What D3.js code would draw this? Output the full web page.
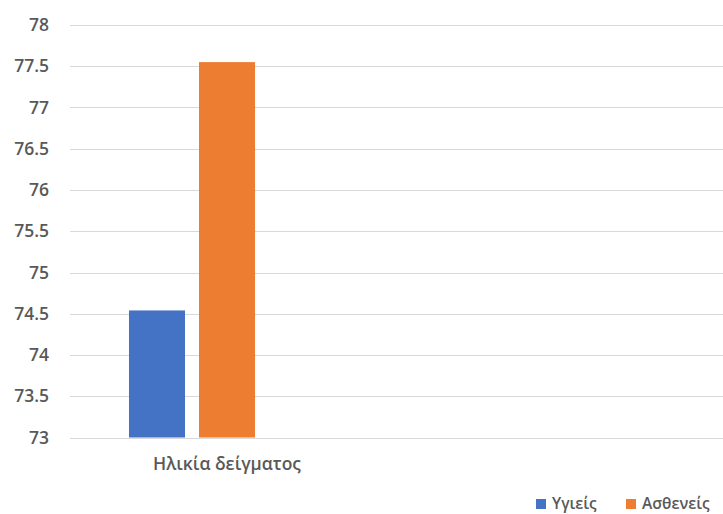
<!DOCTYPE html>
<html><head><meta charset="utf-8">
<script src="https://cdn.jsdelivr.net/npm/d3@7/dist/d3.min.js"></script>
<style>body{margin:0;background:#fff;}svg{display:block;font-family:"Open Sans","Noto Sans",sans-serif;}</style>
</head><body>
<svg id="c" width="723" height="514"></svg>
<script>
const categories = ["Ηλικία δείγματος"];
const seriesNames = ["Υγιείς", "Ασθενείς"];
const healthy = [74.54];
const patients = [77.55];
const yTicks = [73, 73.5, 74, 74.5, 75, 75.5, 76, 76.5, 77, 77.5, 78];
const colors = ["#4472C4", "#ED7D31"];

const svg = d3.select("#c");
const y = d3.scaleLinear().domain([73, 78]).range([437.5, 25]);
const x = d3.scaleBand().domain(categories).range([70, 314]).paddingInner(0).paddingOuter(0.468);
const xs = d3.scaleBand().domain(seriesNames).range([0, x.bandwidth()]).paddingInner(0.2);

// gridlines
svg.append("g").selectAll("line").data(yTicks).join("line")
  .attr("x1", 70).attr("x2", 723)
  .attr("y1", d => Math.round(y(d)) + 0.5).attr("y2", d => Math.round(y(d)) + 0.5)
  .attr("stroke", "#d9d9d9").attr("stroke-width", 1.2);

// y labels
const fmt = d => (d % 1 === 0 ? d3.format("d")(d) : d3.format(".1f")(d));
svg.append("g").selectAll("text").data(yTicks).join("text")
  .attr("x", 49).attr("y", d => y(d)).attr("dy", "0.35em")
  .attr("text-anchor", "end").attr("fill", "#595959").attr("font-size", 17.5).attr("font-weight", 600)
  .text(fmt);

// bars
const data = categories.map((c, i) => ({cat: c, vals: [healthy[i], patients[i]]}));
const g = svg.append("g");
data.forEach(d => {
  g.selectAll(null).data(d.vals).join("rect")
    .attr("x", (v, j) => x(d.cat) + xs(seriesNames[j]))
    .attr("width", xs.bandwidth())
    .attr("y", v => y(v))
    .attr("height", v => y(73) - y(v))
    .attr("fill", (v, j) => colors[j]);
});

// category label
svg.append("g").selectAll("text").data(categories).join("text")
  .attr("x", 227).attr("y", 464).attr("dy", "0.35em")
  .attr("text-anchor", "middle").attr("fill", "#595959").attr("font-size", 17.5).attr("font-weight", 600)
  .text(d => d);

// legend
const legX = [536, 626];
const leg = svg.append("g").selectAll("g").data(seriesNames).join("g")
  .attr("transform", (d, i) => `translate(${legX[i]},499)`);
leg.append("rect").attr("width", 10).attr("height", 10).attr("fill", (d, i) => colors[i]);
leg.append("text").attr("x", 16).attr("y", 9.5)
  .attr("fill", "#595959").attr("font-size", 15.5).attr("font-weight", 600).text(d => d);
</script>
</body></html>
